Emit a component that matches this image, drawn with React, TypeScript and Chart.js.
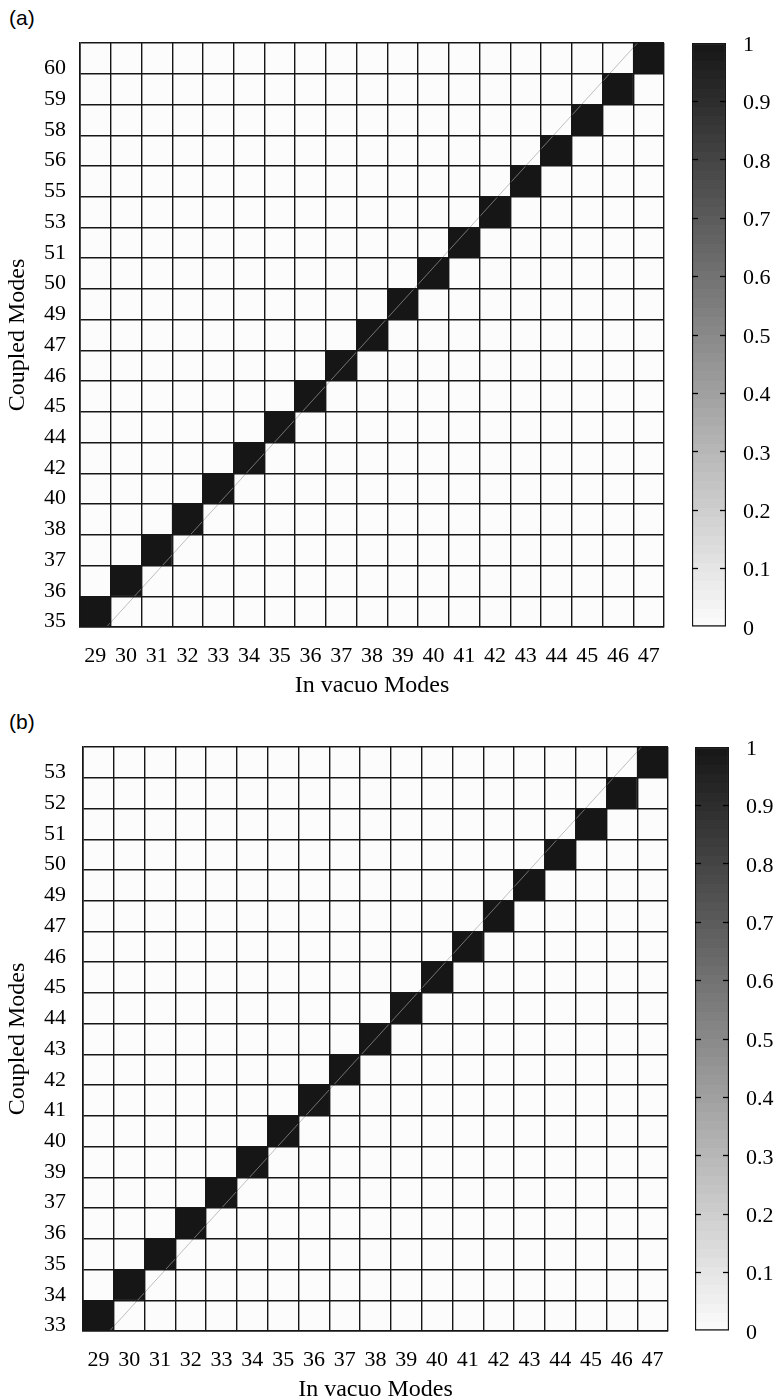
import React, { useEffect, useRef } from 'react';
import { Chart, registerables } from 'chart.js';

Chart.register(...registerables);

// ---------- data ----------
const inVacuoModes = ['29', '30', '31', '32', '33', '34', '35', '36', '37', '38', '39', '40', '41', '42', '43', '44', '45', '46', '47'];
const coupledModesA = ['35', '36', '37', '38', '40', '42', '44', '45', '46', '47', '49', '50', '51', '53', '55', '56', '58', '59', '60'];
const coupledModesB = ['33', '34', '35', '36', '37', '39', '40', '41', '42', '43', '44', '45', '46', '47', '49', '50', '51', '52', '53'];
// MAC values on the diagonal (row i = coupled mode i, column i = in vacuo mode i)
const diagonalA = [1, 1, 1, 1, 1, 1, 1, 1, 1, 1, 1, 1, 1, 1, 1, 1, 1, 1, 1];
const diagonalB = [1, 1, 1, 1, 1, 1, 1, 1, 1, 1, 1, 1, 1, 1, 1, 1, 1, 1, 1];
// every off-diagonal cell reads as white
const offDiagonalValue = 0;
const colorbarTicks = [0, 0.1, 0.2, 0.3, 0.4, 0.5, 0.6, 0.7, 0.8, 0.9, 1];

const SERIF = "'Liberation Serif', 'Times New Roman', Times, serif";
const SANS = "'Liberation Sans', Arial, Helvetica, sans-serif";
const TICK_FONT = { family: SERIF, size: 22 };
const TITLE_FONT = { family: SERIF, size: 24 };

function gray(v: number) {
  const g = Math.round(252 - v * (252 - 22));
  return `rgb(${g},${g},${g})`;
}

const CANVAS_W = 680;
const CANVAS_H = 700;
const PLOT_TOP = 43;
const PLOT_BOTTOM = 627;
const CB_W = 34;
const CB_LABEL_W = 60;
const CB_TICK = 6;
const LINE = '#161616';

type PanelProps = {
  top: number;
  letter: string;
  plotLeft: number;
  plotRight: number;
  cbLeft: number;
  yLabels: string[];
  diagonal: number[];
  yTickPad: number;
};

function Panel({ top, letter, plotLeft, plotRight, cbLeft, yLabels, diagonal, yTickPad }: PanelProps) {
  const mainRef = useRef<HTMLCanvasElement>(null);
  const cbRef = useRef<HTMLCanvasElement>(null);

  useEffect(() => {
    const nx = inVacuoModes.length;
    const ny = yLabels.length;
    const cellValue = (i: number, j: number) => (i === j ? diagonal[i] : offDiagonalValue);
    const cellH = (PLOT_BOTTOM - PLOT_TOP) / ny;

    const datasets: any[] = yLabels.map((_, i) => ({
      type: 'bar',
      xAxisID: 'x',
      yAxisID: 'y',
      order: 1,
      data: inVacuoModes.map(() => [i, i + 1]),
      backgroundColor: inVacuoModes.map((__, j) => gray(cellValue(i, j))),
      borderWidth: 0,
      categoryPercentage: 1,
      barPercentage: 1,
      grouped: false,
    }));
    // thin rendering seam visible across the dark diagonal cells
    datasets.push({
      type: 'line',
      xAxisID: 'x2',
      yAxisID: 'y',
      order: -1,
      data: [
        { x: 0, y: 0 },
        { x: nx, y: ny },
      ],
      borderColor: 'rgba(160,160,160,0.85)',
      borderWidth: 0.8,
      pointRadius: 0,
    });

    const main = new Chart(mainRef.current!, {
      type: 'bar',
      data: { labels: inVacuoModes, datasets },
      options: {
        responsive: false,
        animation: false,
        events: [],
        layout: { padding: { left: 0, right: CANVAS_W - plotRight, top: PLOT_TOP, bottom: 0 } },
        plugins: { legend: { display: false }, tooltip: { enabled: false } },
        scales: {
          x: {
            type: 'category',
            position: 'bottom',
            offset: true,
            afterFit: (s: any) => {
              s.height = CANVAS_H - PLOT_BOTTOM;
            },
            ticks: {
              autoSkip: false,
              maxRotation: 0,
              minRotation: 0,
              padding: 16,
              color: '#000',
              font: TICK_FONT,
            },
            grid: { offset: true, color: LINE, lineWidth: 1.4, drawTicks: false, z: 1 },
            border: { display: true, color: LINE, width: 1.6, z: 1 },
            title: { display: true, text: 'In vacuo Modes', color: '#000', font: TITLE_FONT, padding: { top: 0, bottom: 0 } },
          },
          x2: {
            type: 'linear',
            display: false,
            min: 0,
            max: nx,
          },
          y: {
            type: 'linear',
            position: 'left',
            min: 0,
            max: ny,
            afterBuildTicks: (s: any) => {
              const t = [];
              for (let k = 0; k <= ny; k++) t.push({ value: k });
              s.ticks = t;
            },
            afterFit: (s: any) => {
              s.width = plotLeft;
            },
            ticks: {
              autoSkip: false,
              padding: yTickPad,
              labelOffset: -cellH / 2 + 10,
              color: '#000',
              font: TICK_FONT,
              callback: (v: any) => yLabels[Math.round(v)] ?? '',
            },
            grid: { color: LINE, lineWidth: 1.4, drawTicks: false, z: 1 },
            border: { display: true, color: LINE, width: 1.6, z: 1 },
            title: { display: true, text: 'Coupled Modes', color: '#000', font: TITLE_FONT, padding: { top: 3, bottom: 0 } },
          },
        },
      } as any,
    });

    const innerTickColor = (ctx: any) => {
      const v = ctx.tick?.value ?? 0;
      return v <= 0.001 || v >= 0.999 ? 'rgba(0,0,0,0)' : '#000';
    };
    const setCbTicks = (s: any) => {
      s.ticks = colorbarTicks.map((v) => ({ value: v }));
    };

    const cb = new Chart(cbRef.current!, {
      type: 'bar',
      data: {
        labels: [''],
        datasets: [
          {
            data: [[0, 1]] as any,
            backgroundColor: (ctx: any) => {
              const { chart } = ctx;
              if (!chart.chartArea) return gray(0.5);
              const yScale = chart.scales.y;
              const g = chart.ctx.createLinearGradient(0, yScale.getPixelForValue(0), 0, yScale.getPixelForValue(1));
              const steps = 64;
              for (let k = 0; k < steps; k++) {
                const v = (k + 0.5) / steps;
                g.addColorStop(k / steps, gray(v));
                g.addColorStop((k + 1) / steps, gray(v));
              }
              return g;
            },
            borderColor: LINE,
            borderWidth: 1.5,
            borderSkipped: false,
            categoryPercentage: 1,
            barPercentage: 1,
          },
        ],
      },
      options: {
        responsive: false,
        animation: false,
        events: [],
        layout: { padding: { left: 1, right: 0, top: PLOT_TOP, bottom: CANVAS_H - PLOT_BOTTOM } },
        plugins: { legend: { display: false }, tooltip: { enabled: false } },
        scales: {
          x: { display: false },
          y: {
            position: 'right',
            min: 0,
            max: 1,
            afterBuildTicks: setCbTicks,
            afterFit: (s: any) => {
              s.width = CB_LABEL_W;
            },
            ticks: {
              padding: 17 + CB_TICK,
              labelOffset: 2,
              color: '#000',
              font: TICK_FONT,
              callback: (v: any) => String(Math.round(v * 10) / 10),
            },
            grid: {
              drawOnChartArea: false,
              drawTicks: true,
              tickLength: -CB_TICK,
              tickColor: innerTickColor,
              tickWidth: 1.3,
              z: 2,
            },
            border: { display: false },
          },
          yl: {
            position: 'left',
            min: 0,
            max: 1,
            afterBuildTicks: setCbTicks,
            afterFit: (s: any) => {
              s.width = 0;
            },
            ticks: { display: true, padding: 0, callback: () => '' },
            grid: {
              drawOnChartArea: false,
              drawTicks: true,
              tickLength: -CB_TICK,
              tickColor: innerTickColor,
              tickWidth: 1.3,
              z: 2,
            },
            border: { display: false },
          },
        },
      } as any,
    });

    return () => {
      main.destroy();
      cb.destroy();
    };
  }, []);

  return (
    <>
      <div
        style={{
          position: 'absolute',
          left: 9,
          top: top + 5,
          fontFamily: SANS,
          fontSize: 21,
          lineHeight: '26px',
          color: '#000',
        }}
      >
        {letter}
      </div>
      <canvas ref={mainRef} width={CANVAS_W} height={CANVAS_H} style={{ position: 'absolute', left: 0, top }} />
      <canvas
        ref={cbRef}
        width={CB_W + CB_LABEL_W + 1}
        height={CANVAS_H}
        style={{ position: 'absolute', left: cbLeft - 1, top }}
      />
    </>
  );
}

export default function App() {
  return (
    <div
      style={{
        position: 'absolute',
        left: 0,
        top: 0,
        width: 778,
        height: 1400,
        overflow: 'hidden',
        background: '#fff',
      }}
    >
      <Panel
        top={0}
        letter="(a)"
        plotLeft={80}
        plotRight={664}
        cbLeft={692}
        yLabels={coupledModesA}
        diagonal={diagonalA}
        yTickPad={14}
      />
      <Panel
        top={704}
        letter="(b)"
        plotLeft={83}
        plotRight={668}
        cbLeft={695}
        yLabels={coupledModesB}
        diagonal={diagonalB}
        yTickPad={17}
      />
    </div>
  );
}
